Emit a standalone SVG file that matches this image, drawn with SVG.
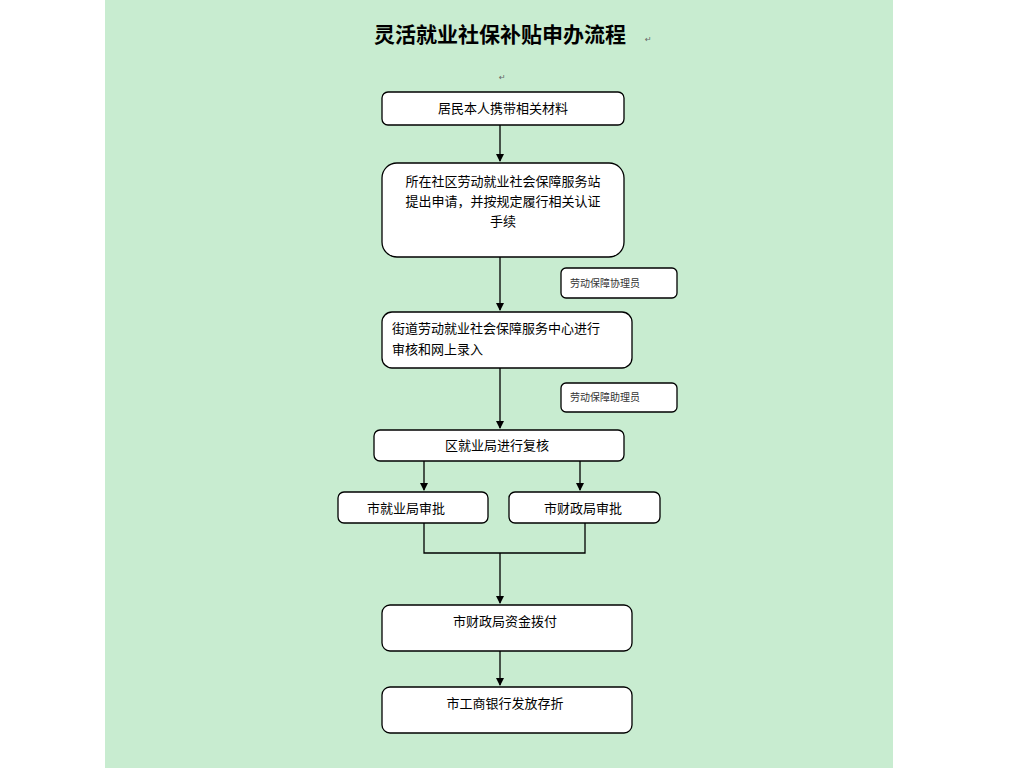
<svg xmlns="http://www.w3.org/2000/svg" width="1024" height="768" viewBox="0 0 1024 768">
<style>
.b{fill:#fff;stroke:#000;stroke-width:1.3}
.t{font-family:"Liberation Sans","Noto Sans CJK SC",sans-serif;font-size:13px;fill:#000}
.s{font-family:"Liberation Sans","Noto Sans CJK SC",sans-serif;font-size:10px;fill:#333}
.m{font-family:"DejaVu Sans",sans-serif;font-size:8px;fill:#666}
.c{fill:none;stroke:#000;stroke-width:1.3}
</style>
<defs><marker id="a" markerWidth="8" markerHeight="8" refX="7" refY="4" orient="auto" markerUnits="userSpaceOnUse"><path d="M0,0L8,4L0,8z" fill="#000"/></marker></defs>
<rect x="0" y="0" width="1024" height="768" fill="#fff"/>
<rect x="105" y="0" width="788" height="768" fill="#c8ecd0"/>
<text x="500" y="42" text-anchor="middle" font-family="'Liberation Sans','Noto Sans CJK SC',sans-serif" font-size="21" font-weight="bold">灵活就业社保补贴申办流程</text>
<text x="645" y="42" class="m">↵</text>
<text x="499" y="80" class="m">↵</text>
<g id="connectors">
<path class="c" d="M500,125V161" marker-end="url(#a)"/>
<path class="c" d="M500,257V310" marker-end="url(#a)"/>
<path class="c" d="M500,368V428" marker-end="url(#a)"/>
<path class="c" d="M424,461V490" marker-end="url(#a)"/>
<path class="c" d="M580,461V490" marker-end="url(#a)"/>
<path class="c" d="M424,523V553H585V523M500,553V603" marker-end="url(#a)"/>
<path class="c" d="M500,651V685" marker-end="url(#a)"/>
</g>
<g id="n1"><rect class="b" x="382" y="92" width="242" height="33" rx="6"/><text class="t" x="503" y="113" text-anchor="middle">居民本人携带相关材料</text></g>
<g id="n2"><rect class="b" x="382" y="163" width="242" height="94" rx="15"/><text class="t" x="503" y="186" text-anchor="middle">所在社区劳动就业社会保障服务站</text><text class="t" x="503" y="206" text-anchor="middle">提出申请，并按规定履行相关认证</text><text class="t" x="503" y="226" text-anchor="middle">手续</text></g>
<g id="n2a"><rect class="b" x="561" y="268" width="116" height="30" rx="5"/><text class="s" x="570" y="287">劳动保障协理员</text></g>
<g id="n3"><rect class="b" x="382" y="312" width="250" height="56" rx="10"/><text class="t" x="392" y="333">街道劳动就业社会保障服务中心进行</text><text class="t" x="392" y="354">审核和网上录入</text></g>
<g id="n3a"><rect class="b" x="561" y="383" width="116" height="29" rx="5"/><text class="s" x="570" y="401">劳动保障助理员</text></g>
<g id="n4"><rect class="b" x="374" y="430" width="250" height="31" rx="6"/><text class="t" x="497" y="450" text-anchor="middle">区就业局进行复核</text></g>
<g id="n5"><rect class="b" x="338" y="492" width="150" height="31" rx="6"/><text class="t" x="406" y="513" text-anchor="middle">市就业局审批</text></g>
<g id="n6"><rect class="b" x="509" y="492" width="151" height="31" rx="6"/><text class="t" x="583" y="513" text-anchor="middle">市财政局审批</text></g>
<g id="n7"><rect class="b" x="382" y="605" width="250" height="46" rx="8"/><text class="t" x="505" y="626" text-anchor="middle">市财政局资金拨付</text></g>
<g id="n8"><rect class="b" x="382" y="687" width="250" height="46" rx="8"/><text class="t" x="505" y="708" text-anchor="middle">市工商银行发放存折</text></g>
</svg>
